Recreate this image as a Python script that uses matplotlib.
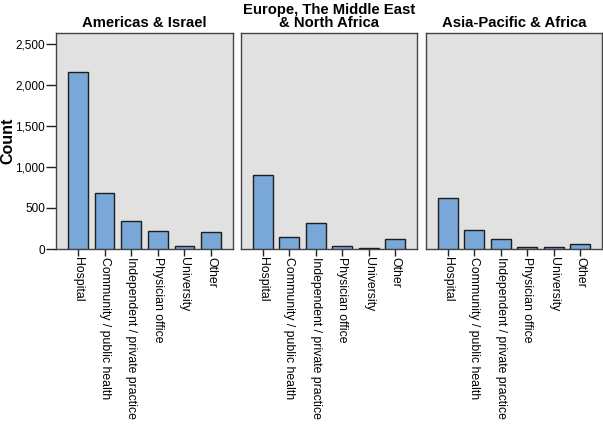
import matplotlib
matplotlib.use("Agg")
import matplotlib.pyplot as plt
from matplotlib.ticker import FuncFormatter

plt.rcParams['font.family'] = ['Liberation Sans', 'DejaVu Sans']

categories = ["Hospital", "Community / public health", "Independent / private practice",
              "Physician office", "University", "Other"]
regions = ["Americas & Israel", "Europe, The Middle East\n& North Africa", "Asia-Pacific & Africa"]
americas = [2150, 680, 345, 225, 32, 212]
europe = [900, 142, 318, 32, 14, 126]
asia = [617, 230, 122, 20, 20, 62]
series = [americas, europe, asia]

W, H = 603, 425
fig = plt.figure(figsize=(W / 100, H / 100), dpi=100)
fig.patch.set_facecolor('white')

panels = [(56, 233), (241, 417), (426, 602)]
top, bottom = 33, 249

for i, ((l, r), vals, title) in enumerate(zip(panels, series, regions)):
    ax = fig.add_axes([l / W, (H - bottom) / H, (r - l) / W, (bottom - top) / H])
    ax.set_facecolor('#e1e1e1')
    x = list(range(len(categories)))
    ax.bar(x, vals, width=0.74, color='#79a8d8', edgecolor='#1e1e1e', linewidth=1.0, zorder=3)
    ax.set_xlim(-0.82, 5.82)
    ax.set_ylim(0, 2630)
    for s in ax.spines.values():
        s.set_color('#444444')
        s.set_linewidth(1.0)
    ax.set_xticks(x)
    ax.set_xticklabels(categories, rotation=270, fontsize=8.8, va='top', ha='center')
    ax.tick_params(axis='x', length=5, width=1, color='#222222', pad=1)
    if i == 0:
        ax.set_yticks([0, 500, 1000, 1500, 2000, 2500])
        ax.yaxis.set_major_formatter(FuncFormatter(lambda v, p: f"{int(v):,}"))
        ax.tick_params(axis='y', length=7, width=1, labelsize=8.5, color='#222222', pad=1)
        ax.set_ylabel("Count", fontsize=11.5, fontweight='bold')
        ax.yaxis.set_label_coords(-41 / (r - l), 0.5)
    else:
        ax.set_yticks([])
    ax.set_title(title, fontsize=10.7, fontweight='bold', pad=4, linespacing=0.95)

fig.savefig("out.png", dpi=100, facecolor='white')
